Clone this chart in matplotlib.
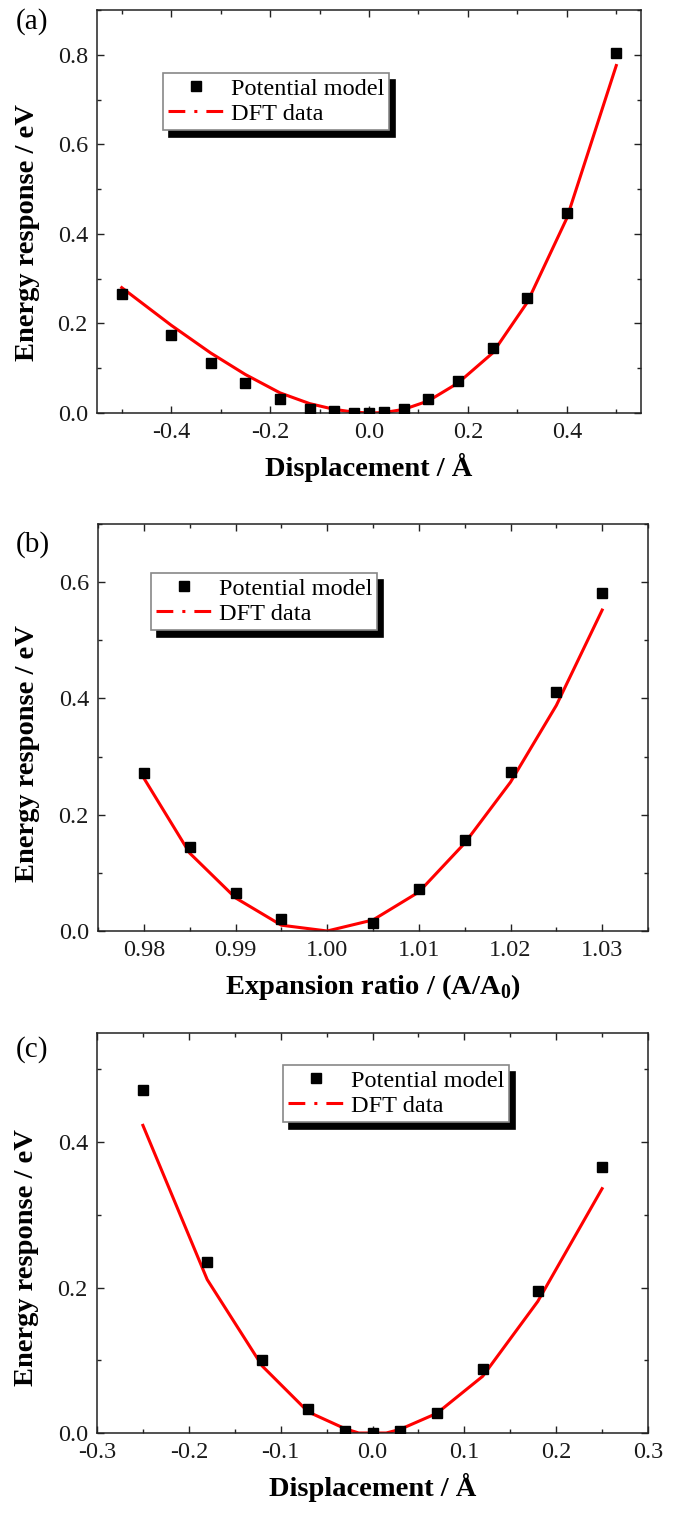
import matplotlib
matplotlib.use('Agg')
import matplotlib.pyplot as plt
from matplotlib.lines import Line2D
from matplotlib.ticker import MultipleLocator, FormatStrFormatter

# ---- data ----
# (a) displacement scan
a_x = [-0.5, -0.4, -0.32, -0.25, -0.18, -0.12, -0.07, -0.03, 0.0, 0.03, 0.07, 0.12, 0.18, 0.25, 0.32, 0.4, 0.5]
a_model = [0.266, 0.174, 0.112, 0.066, 0.032, 0.010, 0.004, 0.001, 0.0, 0.002, 0.010, 0.031, 0.072, 0.145, 0.257, 0.446, 0.803]
a_dft = [0.280, 0.196, 0.134, 0.086, 0.045, 0.021, 0.008, 0.002, 0.0, 0.001, 0.008, 0.027, 0.067, 0.134, 0.247, 0.435, 0.776]

# (b) expansion ratio scan
b_x_model = [0.98, 0.985, 0.99, 0.995, 1.005, 1.01, 1.015, 1.02, 1.025, 1.03]
b_model = [0.271, 0.144, 0.065, 0.021, 0.013, 0.072, 0.156, 0.273, 0.411, 0.581]
b_x_dft = [0.98, 0.985, 0.99, 0.995, 1.0, 1.005, 1.01, 1.015, 1.02, 1.025, 1.03]
b_dft = [0.263, 0.134, 0.057, 0.010, 0.0, 0.019, 0.067, 0.151, 0.256, 0.388, 0.552]

# (c) displacement scan
c_x_model = [-0.25, -0.18, -0.12, -0.07, -0.03, 0.0, 0.03, 0.07, 0.12, 0.18, 0.25]
c_model = [0.472, 0.235, 0.101, 0.033, 0.003, 0.0, 0.003, 0.028, 0.088, 0.195, 0.366]
c_x_dft = [-0.25, -0.18, -0.12, -0.07, -0.03, -0.015, 0.015, 0.03, 0.07, 0.12, 0.18, 0.25]
c_dft = [0.423, 0.211, 0.092, 0.029, 0.006, 0.0, 0.0, 0.005, 0.027, 0.078, 0.181, 0.336]

LEGEND_LABELS = ['Potential model', 'DFT data']
PANEL_TAGS = ['(a)', '(b)', '(c)']
YLABEL = 'Energy response / eV'
XLABELS = ['Displacement / \u00c5',
           r'Expansion ratio / (A/A$_\mathbf{0}$)',
           'Displacement / \u00c5']

plt.rcParams['font.family'] = ['Liberation Serif', 'DejaVu Serif']
plt.rcParams['mathtext.fontset'] = 'custom'
plt.rcParams['mathtext.rm'] = 'Liberation Serif'
plt.rcParams['mathtext.bf'] = 'Liberation Serif:bold'
plt.rcParams['axes.unicode_minus'] = False

W, H = 680, 1515
TICK_FS = 17.5
LABEL_FS = 20.5
RED = '#ff0000'
SPINE = '#222222'


def px_rect(left, top, right, bottom):
    return [left / W, 1 - bottom / H, (right - left) / W, (bottom - top) / H]


fig = plt.figure(figsize=(W / 100, H / 100), dpi=100)

panels = [
    dict(rect=px_rect(97, 10, 641, 413), xm=a_x, ym=a_model, xd=a_x, yd=a_dft,
         xlim=(-0.55, 0.55), ylim=(0, 0.9), xmaj=0.2, xmin=0.1, ymaj=0.2, ymin=0.1,
         xfmt='%.1f', leg=(163, 73), ylab_y=0.449),
    dict(rect=px_rect(98, 524, 648, 931), xm=b_x_model, ym=b_model, xd=b_x_dft, yd=b_dft,
         xlim=(0.975, 1.035), ylim=(0, 0.7), xmaj=0.01, xmin=0.005, ymaj=0.2, ymin=0.1,
         xfmt='%.2f', leg=(151, 573), ylab_y=0.435),
    dict(rect=px_rect(97, 1033, 648, 1433), xm=c_x_model, ym=c_model, xd=c_x_dft, yd=c_dft,
         xlim=(-0.3, 0.3), ylim=(0, 0.55), xmaj=0.1, xmin=0.05, ymaj=0.2, ymin=0.1,
         xfmt='%.1f', leg=(283, 1065), ylab_y=0.4375),
]

tag_y = [22, 545, 1050]

for i, p in enumerate(panels):
    ax = fig.add_axes(p['rect'])
    ax.plot(p['xd'], p['yd'], color=RED, lw=2.2, zorder=2)
    ax.plot(p['xm'], p['ym'], ls='none', marker='s', ms=7.8, color='k', zorder=3)
    ax.set_xlim(*p['xlim'])
    ax.set_ylim(*p['ylim'])

    ax.xaxis.set_major_locator(MultipleLocator(p['xmaj']))
    ax.xaxis.set_minor_locator(MultipleLocator(p['xmin']))
    ax.yaxis.set_major_locator(MultipleLocator(p['ymaj']))
    ax.yaxis.set_minor_locator(MultipleLocator(p['ymin']))
    ax.xaxis.set_major_formatter(FormatStrFormatter(p['xfmt']))
    ax.yaxis.set_major_formatter(FormatStrFormatter('%.1f'))
    ax.tick_params(which='both', direction='in', top=True, right=True,
                   color=SPINE, width=1.0, labelsize=TICK_FS, labelcolor='#1a1a1a')
    ax.tick_params(which='major', length=4.8, pad=6.5)
    ax.tick_params(which='minor', length=3.0)
    for s in ax.spines.values():
        s.set_color(SPINE)
        s.set_linewidth(1.1)

    ax.set_xlabel(XLABELS[i], fontsize=LABEL_FS, fontweight='bold')
    ax.set_ylabel(YLABEL, fontsize=LABEL_FS, fontweight='bold')
    ax.xaxis.set_label_coords(0.5, -0.10)
    ax.yaxis.set_label_coords(-0.105, p['ylab_y'])

    handles = [
        Line2D([], [], ls='none', marker='s', ms=7.8, color='k'),
        Line2D([], [], color=RED, lw=2.2, dashes=(5.5, 2.95, 1.0, 2.95)),
    ]
    lx, ly = p['leg']
    ax.legend(handles, LEGEND_LABELS, loc='upper left',
              bbox_to_anchor=(lx / W, 1 - ly / H), bbox_transform=fig.transFigure,
              borderaxespad=0, fontsize=TICK_FS, frameon=True, fancybox=False,
              framealpha=1, edgecolor='#888888', borderpad=0.2,
              handlelength=2.35, handletextpad=0.25, labelspacing=0.12,
              shadow={'ox': 4.3, 'oy': -5, 'facecolor': 'k', 'edgecolor': 'k', 'alpha': 1})
    ax.get_legend().get_frame().set_linewidth(1.2)

    fig.text(16 / W, 1 - tag_y[i] / H, PANEL_TAGS[i], fontsize=21, va='center', ha='left')

fig.savefig('out.png', dpi=100)
